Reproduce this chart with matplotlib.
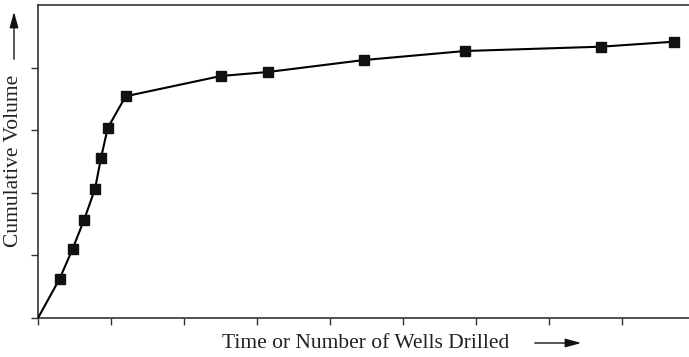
import matplotlib
matplotlib.use("Agg")
import matplotlib.pyplot as plt

# data (x in tick units, y in tick units)
x_vals = [0.0, 0.297, 0.475, 0.630, 0.781, 0.863, 0.955, 1.201,
          2.507, 3.151, 4.466, 5.849, 7.712, 8.712]
y_vals = [0.0, 0.628, 1.107, 1.565, 2.061, 2.556, 3.035, 3.542,
          3.866, 3.930, 4.121, 4.265, 4.334, 4.414]
x_ticks = list(range(0, 9))
y_ticks = list(range(0, 5))

plt.rcParams["font.family"] = ["Liberation Serif", "DejaVu Serif"]

W, H = 689, 357
fig = plt.figure(figsize=(W / 100, H / 100), dpi=100)
ax = fig.add_axes([38 / W, 1 - 318 / H, (689 - 38) / W, (318 - 5) / H])

ax.plot(x_vals, y_vals, color="black", lw=1.5, zorder=3)
ax.plot(x_vals[1:], y_vals[1:], ls="none", marker="s", ms=7,
        color="#111111", zorder=4)

ax.set_xlim(0, (689 - 38) / 73.0)
ax.set_ylim(0, 5)
ax.set_xticks(x_ticks)
ax.set_yticks(y_ticks)
ax.set_xticklabels([])
ax.set_yticklabels([])
ax.tick_params(direction="out", length=5, width=1, color="#333333")
ax.spines["right"].set_visible(False)
for s in ["left", "bottom", "top"]:
    ax.spines[s].set_color("#333333")
    ax.spines[s].set_linewidth(1.2)

# axis labels with arrows
arrow = "-|>,head_length=0.8,head_width=0.22"
fig.text(366 / W, 1 - 343 / H, "Time or Number of Wells Drilled",
         ha="center", va="center", fontsize=15.5, color="#222222")
fig.add_artist(matplotlib.patches.FancyArrowPatch(
    (532 / W, 1 - 343 / H), (584 / W, 1 - 343 / H),
    transform=fig.transFigure, arrowstyle=arrow,
    mutation_scale=12, color="#111111", lw=1))

fig.text(14 / W, 1 - 161 / H, "Cumulative Volume", rotation=90,
         ha="center", va="center", fontsize=15.5, color="#222222")
fig.add_artist(matplotlib.patches.FancyArrowPatch(
    (14 / W, 1 - 62 / H), (14 / W, 1 - 9 / H),
    transform=fig.transFigure, arrowstyle=arrow,
    mutation_scale=12, color="#111111", lw=1))

fig.savefig("out.png", dpi=100)
